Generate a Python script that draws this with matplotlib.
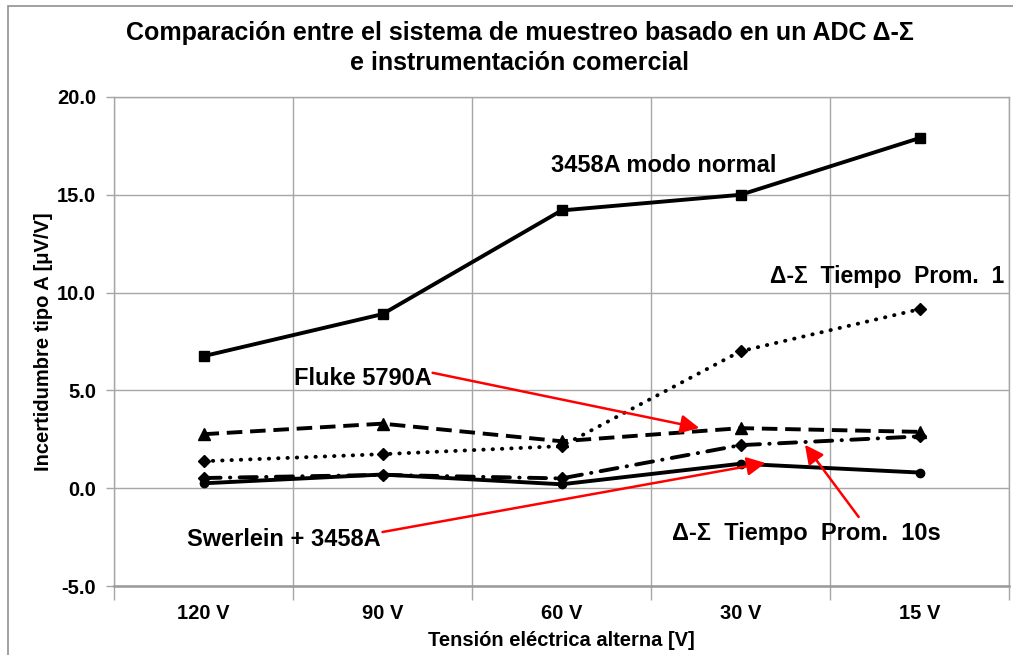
import numpy as np
import matplotlib.pyplot as plt
from matplotlib.patches import Rectangle

plt.rcParams['font.family'] = ['Liberation Sans', 'DejaVu Sans']

# Data
categories = ['120 V', '90 V', '60 V', '30 V', '15 V']
modo_normal = [6.75, 8.9, 14.2, 15.0, 17.9]
prom_1 = [1.38, 1.74, 2.15, 7.0, 9.15]
fluke = [2.76, 3.3, 2.4, 3.07, 2.88]
prom_10s = [0.52, 0.68, 0.5, 2.2, 2.65]
swerlein = [0.25, 0.7, 0.2, 1.25, 0.8]
y_ticks = [-5, 0, 5, 10, 15, 20]

fig = plt.figure(figsize=(10.13, 6.55), dpi=100)
W, H = 1013, 655

# outer chart frame (only left/top visible in the crop)
fig.patches.append(Rectangle((8 / W, -0.1), 1.2, 1.1 - 6 / H, transform=fig.transFigure,
                             fill=False, edgecolor='#909090', lw=1.2))

ax = fig.add_axes([114 / W, (H - 586) / H, (1009 - 114) / W, (586 - 97) / H])
x = np.arange(len(categories))

lw = 2.8
ax.plot(x, modo_normal, color='black', lw=lw, marker='s', ms=7.5, zorder=5)
ax.plot(x, prom_1, color='black', lw=lw, linestyle=(0, (0.1, 2.3)), dash_capstyle='round',
        marker='D', ms=6.5, zorder=5)
ax.plot(x, fluke, color='black', lw=lw, linestyle=(0, (4.0, 2.0)), marker='^', ms=8, zorder=5)
ax.plot(x, prom_10s, color='black', lw=lw, linestyle=(0, (4.4, 2.4, 0.1, 2.4)),
        dash_capstyle='round', marker='D', ms=6.5, zorder=5)
ax.plot(x, swerlein, color='black', lw=lw, marker='o', ms=6, zorder=5)

ax.set_xlim(-0.5, len(categories) - 0.5)
ax.set_ylim(-5, 20)
ax.set_yticks(y_ticks)
ax.set_yticklabels([f'{v:.1f}' for v in y_ticks])
ax.set_xticks(x)
ax.set_xticklabels(categories)
ax.set_xticks(np.arange(-0.5, len(categories), 1), minor=True)

ax.grid(axis='y', which='major', color='#a6a6a6', lw=1)
ax.grid(axis='x', which='minor', color='#a6a6a6', lw=1)
ax.tick_params(axis='x', which='major', length=0, pad=13)
ax.tick_params(axis='x', which='minor', length=10, color='#a6a6a6', width=1)
ax.tick_params(axis='y', length=6, color='#a6a6a6', width=1, pad=7)
for lab in ax.get_xticklabels() + ax.get_yticklabels():
    lab.set_fontweight('bold')
    lab.set_fontsize(14.5)
for s in ax.spines.values():
    s.set_color('#a6a6a6')
    s.set_linewidth(1)
ax.spines['bottom'].set_linewidth(1.8)
ax.spines['bottom'].set_color('#9a9a9a')

ax.set_ylabel('Incertidumbre tipo A [μV/V]', fontsize=14.5, fontweight='bold', labelpad=3)
ax.set_xlabel('Tensión eléctrica alterna [V]', fontsize=14.5, fontweight='bold', labelpad=6)

fig.text(520 / W, 1 - 48 / H, 'Comparación entre el sistema de muestreo basado en un ADC Δ-Σ\n'
         'e instrumentación comercial', ha='center', va='center', fontsize=18,
         fontweight='bold', linespacing=1.35)

# series labels
lab_kw = dict(fontsize=17, fontweight='bold', ha='center', va='center', zorder=6)
ax.text(2.57, 16.5, '3458A modo normal', **lab_kw)
ax.text(3.82, 10.8, 'Δ-Σ  Tiempo  Prom.  1', fontsize=16.5, fontweight='bold',
        ha='center', va='center', zorder=6)
ax.text(0.89, 5.63, 'Fluke 5790A', **lab_kw)
ax.text(0.45, -2.64, 'Swerlein + 3458A', **lab_kw)
ax.text(3.37, -2.3, 'Δ-Σ  Tiempo  Prom.  10s', **lab_kw)

arrow_kw = dict(arrowstyle='-|>', color='red', lw=1.8, mutation_scale=28, shrinkA=0, shrinkB=0)
ax.annotate('', xy=(2.77, 3.08), xytext=(1.28, 5.9), arrowprops=arrow_kw, zorder=7)
ax.annotate('', xy=(3.14, 1.29), xytext=(1.0, -2.24), arrowprops=arrow_kw, zorder=7)
ax.annotate('', xy=(3.36, 2.22), xytext=(3.66, -1.47), arrowprops=arrow_kw, zorder=7)

fig.savefig('out.png', dpi=100)
